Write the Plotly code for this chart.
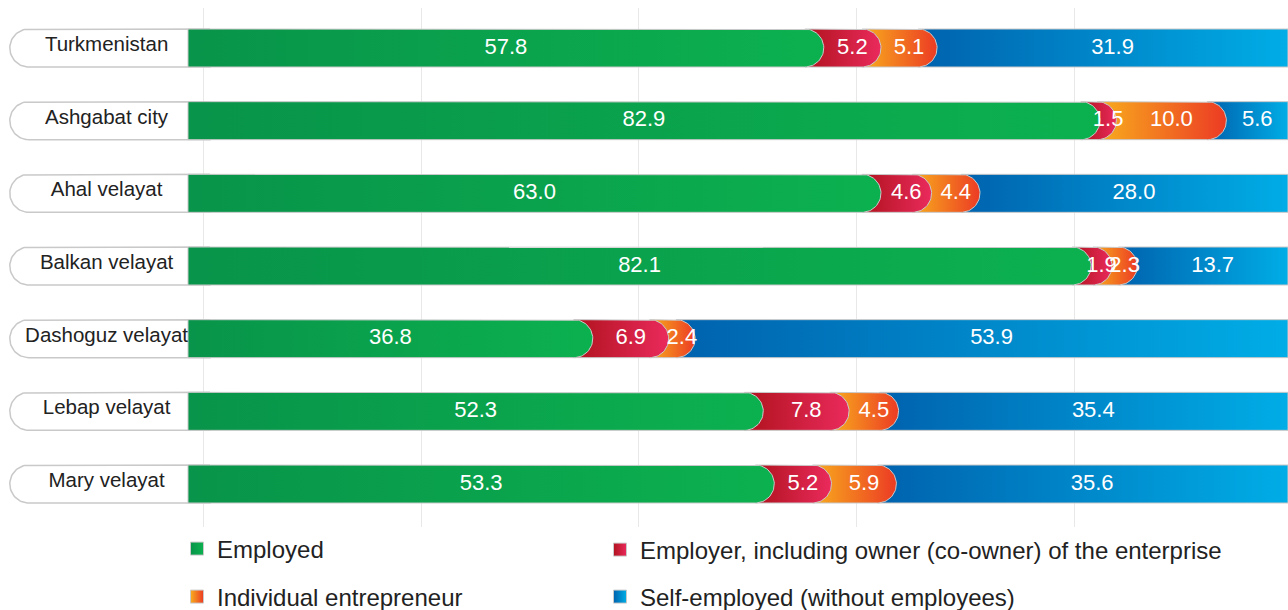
import numpy as np
import plotly.graph_objects as go

# ---------------- data ----------------
regions = ["Turkmenistan", "Ashgabat city", "Ahal velayat", "Balkan velayat",
           "Dashoguz velayat", "Lebap velayat", "Mary velayat"]
employed = [57.8, 82.9, 63.0, 82.1, 36.8, 52.3, 53.3]
employer = [5.2, 1.5, 4.6, 1.9, 6.9, 7.8, 5.2]
individual = [5.1, 10.0, 4.4, 2.3, 2.4, 4.5, 5.9]
self_employed = [31.9, 5.6, 28.0, 13.7, 53.9, 35.4, 35.6]

series_names = ["Employed", "Employer, including owner (co-owner) of the enterprise",
                "Individual entrepreneur", "Self-employed (without employees)"]
series_values = [employed, employer, individual, self_employed]
series_grad = [("#08944a", "#0cb14f"), ("#b0131e", "#ea2a5c"),
               ("#f8ad1d", "#ec3b24"), ("#0062ae", "#00ade6")]

# ---------------- geometry (layout) ----------------
W, H = 1288, 610
M_T, M_B = 8, 83
X_RANGE = [-17.09, 100.0]
Y_RANGE = [6.5917, -0.5504]
px_per_x = W / (X_RANGE[1] - X_RANGE[0])
px_per_y = (H - M_T - M_B) / (Y_RANGE[0] - Y_RANGE[1])
R_PX = 19
rx = R_PX / px_per_x
ry = R_PX / px_per_y
PILL_LEFT = -16.2
LABEL_X = -7.4
GRID_X = [1.4 + 19.8 * k for k in range(5)]
EDGE = "#c9c9c9"
FONT = "Liberation Sans, Arial, sans-serif"

theta = np.linspace(-np.pi / 2, np.pi / 2, 40)


def segment_path(a, b, yc, first, last):
    left = a if first else a - rx
    if last:
        xs = [left, b, b, left, left]
        ys = [yc - ry, yc - ry, yc + ry, yc + ry, yc - ry]
    else:
        cx = b - rx
        xs = [left] + list(cx + rx * np.cos(theta)) + [left, left]
        ys = [yc - ry] + list(yc + ry * np.sin(theta)) + [yc + ry, yc - ry]
    return xs, ys


fig = go.Figure()

# label pills (white, rounded left end, tucked under the bar start)
for i, name in enumerate(regions):
    cx = PILL_LEFT + rx
    xs = [2.0, cx]
    ys = [i - ry, i - ry]
    for t in np.linspace(-np.pi / 2, -3 * np.pi / 2, 40):
        xs.append(cx + rx * np.cos(t))
        ys.append(i + ry * np.sin(t))
    xs += [2.0, 2.0]
    ys += [i + ry, i - ry]
    fig.add_trace(go.Scatter(x=xs, y=ys, mode="lines", fill="toself",
                             fillcolor="white", line=dict(color=EDGE, width=1.5),
                             hoverinfo="skip", showlegend=False))

# stacked rounded segments (draw last to first so earlier caps overlap)
for i in range(len(regions)):
    vals = [s[i] for s in series_values]
    cum = np.concatenate([[0], np.cumsum(vals)])
    for k in reversed(range(len(vals))):
        a, b = cum[k], cum[k + 1]
        xs, ys = segment_path(a, b, i, k == 0, k == len(vals) - 1)
        c1, c2 = series_grad[k]
        fig.add_trace(go.Scatter(
            x=xs, y=ys, mode="lines", fill="toself",
            fillgradient=dict(type="horizontal", colorscale=[[0, c1], [1, c2]]),
            line=dict(color=EDGE, width=1), hoverinfo="skip", showlegend=False))

# value labels
for k, vals in enumerate(series_values):
    xs, ys, txt = [], [], []
    for i in range(len(regions)):
        row = [s[i] for s in series_values]
        start = sum(row[:k])
        xs.append(start + vals[i] / 2)
        ys.append(i)
        txt.append(f"{vals[i]:.1f}")
    fig.add_trace(go.Scatter(x=xs, y=ys, mode="text", text=txt,
                             textfont=dict(color="white", size=22, family=FONT),
                             hoverinfo="skip", showlegend=False))

# category labels
fig.add_trace(go.Scatter(x=[LABEL_X] * len(regions), y=[i - 0.03 for i in range(len(regions))],
                         mode="text", text=regions,
                         textfont=dict(color="#222222", size=20.5, family=FONT),
                         hoverinfo="skip", showlegend=False))

# legend entries, one legend box each
legend_ids = ["legend", "legend2", "legend3", "legend4"]
for k, name in enumerate(series_names):
    c1, c2 = series_grad[k]
    fig.add_trace(go.Scatter(
        x=[None], y=[None], mode="markers", name=name,
        marker=dict(symbol="square", size=13, color=c1,
                    gradient=dict(type="horizontal", color=c2),
                    line=dict(color=EDGE, width=1)),
        legend=legend_ids[k]))

plot_h = H - M_T - M_B


def leg(px_x, px_y):
    return dict(orientation="h", xanchor="left", yanchor="middle",
                x=px_x / W, y=-(px_y - (H - M_B)) / plot_h,
                font=dict(size=24, color="#222222", family=FONT),
                bgcolor="rgba(0,0,0,0)", itemwidth=30)


fig.update_layout(
    width=W, height=H,
    margin=dict(l=0, r=0, t=M_T, b=M_B, autoexpand=False),
    paper_bgcolor="white", plot_bgcolor="white",
    xaxis=dict(range=X_RANGE, tickvals=GRID_X, showticklabels=False, showgrid=True,
               gridcolor="#e8e8e8", gridwidth=1, zeroline=False, showline=False, fixedrange=True),
    yaxis=dict(range=Y_RANGE, showgrid=False, showticklabels=False, zeroline=False,
               showline=False, fixedrange=True),
    legend=leg(177, 549),
    legend2=leg(600, 550),
    legend3=leg(177, 597),
    legend4=leg(600, 597),
    showlegend=True,
)

fig.write_html("out.html", config={"displayModeBar": False},
               post_script="document.body.style.margin='0';document.body.style.overflow='hidden';")
